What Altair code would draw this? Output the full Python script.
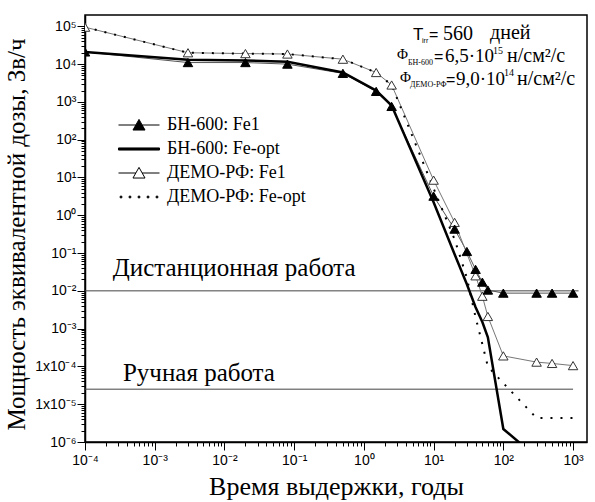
import json
import altair as alt
import pandas as pd

# ---------------- data ----------------
years = [1e-4, 3e-3, 0.02, 0.08, 0.5, 1.5, 2.5, 10, 20, 30, 40, 50, 60, 100, 300, 500, 1000]

bn600_fe1 = [2.1e4, 1.1e4, 1.1e4, 1.0e4, 5.7e3, 1.9e3, 7.6e2, 3.2, 0.43, 0.11, 0.037,
             0.017, 0.0105, 8.7e-3, 8.7e-3, 8.7e-3, 8.7e-3]
bn600_feopt = [2.1e4, 1.3e4, 1.25e4, 1.15e4, 6.0e3, 2.0e3, 8.0e2, 2.2, 0.093, 0.015, 3.7e-3,
               1.5e-3, 5.9e-4, 2.2e-6, 4e-7, None, None]
demo_fe1 = [9.5e4, 2.0e4, 1.9e4, 1.85e4, 1.35e4, 6.0e3, 2.8e3, 8.5, 0.65, None, 0.025,
            7.2e-3, 2.1e-3, 1.9e-4, 1.3e-4, 1.2e-4, 1.05e-4]
demo_feopt = [9.5e4, 2.0e4, 1.9e4, 1.85e4, 1.35e4, 6.0e3, 2.8e3, 5.1, 0.23, 0.022, 2.0e-3,
              3.9e-4, 1.0e-4, 3.6e-5, 4.3e-6, 4.3e-6, 4.3e-6]

series_names = ["БН-600: Fe1", "БН-600: Fe-opt", "ДЕМО-РФ: Fe1", "ДЕМО-РФ: Fe-opt"]

limit_values = [1e-2, 2.5e-5]
limit_x_start = [1e-4, 1e-4]
limit_x_end = [1200, 1000]
limit_labels = ["Дистанционная работа", "Ручная работа"]
limit_label_x = [2.5e-4, 3.5e-4]
limit_label_y = [2.45e-2, 4.1e-5]

x_tick_labels = ["10⁻⁴", "10⁻³", "10⁻²", "10⁻¹", "10⁰", "10¹", "10²", "10³"]
y_tick_labels = ["10⁻⁶", "1x10⁻⁵", "1x10⁻⁴", "10⁻³", "10⁻²", "10⁻¹", "10⁰",
                 "10¹", "10²", "10³", "10⁴", "10⁵"]

# ---------------- tables ----------------
rows = []
for name, vals in zip(series_names, [bn600_fe1, bn600_feopt, demo_fe1, demo_feopt]):
    for xv, yv in zip(years, vals):
        if yv is not None:
            rows.append({"series": name, "x": xv, "y": yv})
df = pd.DataFrame(rows)

df_lim = pd.DataFrame({"x0": limit_x_start, "x1": limit_x_end, "y": limit_values})
df_lab = pd.DataFrame({"lx": limit_label_x, "ly": limit_label_y, "label": limit_labels})
df_leg = pd.DataFrame({"series": series_names})

x_ticks = [m * 10.0 ** e for e in range(-4, 3) for m in range(1, 10)] + [1000.0]
y_ticks = [m * 10.0 ** e for e in range(-6, 5) for m in range(1, 10)] + [1e5]

DEC = "abs(log(datum.value)/LN10 - round(log(datum.value)/LN10)) < 0.000001"
x_label_expr = (f"{DEC} ? {json.dumps(x_tick_labels, ensure_ascii=False)}"
                f"[round(log(datum.value)/LN10) + 4] : ''")
y_label_expr = (f"{DEC} ? {json.dumps(y_tick_labels, ensure_ascii=False)}"
                f"[round(log(datum.value)/LN10) + 6] : ''")

SERIF = "Liberation Serif, Times New Roman, serif"
SANS = "Liberation Sans, Arial, sans-serif"

xs = alt.Scale(type="log", domain=[1e-4, 10 ** 3.2], nice=False)
ys = alt.Scale(type="log", domain=[1e-6, 10 ** 5.3], nice=False)

common_axis = dict(
    grid=False, labelOverlap=False, labelFlush=False,
    tickSize={"condition": {"test": DEC, "value": 8}, "value": 4},
    tickColor="black", tickWidth=1, domainColor="black", domainWidth=1.5,
    labelFont=SANS, labelFontSize=14, labelColor="black",
    titleFont=SERIF, titleFontWeight="normal", titleColor="black",
)
x_axis = alt.Axis(values=x_ticks, labelExpr=x_label_expr, labelPadding=3,
                  title="Время выдержки, годы", titleFontSize=26, titlePadding=6,
                  **common_axis)
y_axis = alt.Axis(values=y_ticks, labelExpr=y_label_expr, labelPadding=1,
                  title="Мощность эквивалентной дозы, Зв/ч", titleFontSize=25,
                  titleX=-56, titleY=219, **common_axis)


def X(field):
    return alt.X(f"{field}:Q", scale=xs, axis=x_axis)


def Y(field):
    return alt.Y(f"{field}:Q", scale=ys, axis=y_axis)


# reference lines
rules = alt.Chart(df_lim).mark_rule(color="#444", strokeWidth=1).encode(
    x=X("x0"), x2="x1", y=Y("y"))
rule_text = alt.Chart(df_lab).mark_text(
    align="left", baseline="alphabetic", font=SERIF, fontSize=25, color="black"
).encode(x=X("lx"), y=Y("ly"), text="label:N")


def series_line(name, **style):
    return alt.Chart(df).transform_filter(alt.datum.series == name).mark_line(
        clip=True, **style).encode(x=X("x"), y=Y("y"))


def series_points(name, **style):
    return alt.Chart(df).transform_filter(alt.datum.series == name).mark_point(
        shape="triangle-up", clip=True, opacity=1, **style).encode(x=X("x"), y=Y("y"))


l_bn_fe1 = series_line(series_names[0], color="#555", strokeWidth=1)
l_bn_opt = series_line(series_names[1], color="black", strokeWidth=2.5)
l_demo_fe1 = series_line(series_names[2], color="#777", strokeWidth=1)
l_demo_opt = series_line(series_names[3], color="black", strokeWidth=2,
                         strokeDash=[2, 8], strokeCap="butt")
p_bn_fe1 = series_points(series_names[0], filled=True, fill="black", stroke="black",
                         strokeWidth=1, size=90)
p_demo_fe1 = series_points(series_names[2], filled=True, fill="white", stroke="#333",
                           strokeWidth=1, size=90)

# legend (custom symbols: line + triangle, thick line, dots); unit = 7 px
tri_line = "M-2.93,0H-0.45M-0.86,0.72L0,-0.8L0.86,0.72ZM0.45,0H2.93"
thick = "M-2.93,-0.15H2.93V0.15H-2.93Z"
dots = "".join(f"M{c - 0.12:.2f},-0.12h0.24v0.24h-0.24Z"
               for c in [-2.57, -1.29, 0, 1.29, 2.57])
legend_paths = [tri_line, thick, tri_line, dots]
legend_fill = ["black", "black", "white", "black"]
legend_stroke = ["black", "black", "black", "black"]

leg = alt.Legend(orient="none", legendX=45, legendY=101, title=None,
                 labelFont=SERIF, labelFontSize=18, labelColor="black",
                 symbolSize=196, symbolStrokeWidth=1, symbolOpacity=1,
                 labelOffset=19, rowPadding=6, padding=0)
legend_layer = alt.Chart(df_leg).mark_point(filled=True, opacity=0, strokeWidth=1).encode(
    shape=alt.Shape("series:N", scale=alt.Scale(domain=series_names, range=legend_paths),
                    legend=leg),
    fill=alt.Fill("series:N", scale=alt.Scale(domain=series_names, range=legend_fill),
                  legend=leg),
    stroke=alt.Stroke("series:N", scale=alt.Scale(domain=series_names, range=legend_stroke),
                      legend=leg),
)

# top-right annotation built from text pieces
PX0, PY0 = 85, 15


def note(text, px, py, size, font=SERIF, align="left"):
    return alt.Chart(alt.Data(values=[{}])).mark_text(
        text=text, align=align, baseline="alphabetic", font=font, fontSize=size,
        color="black").encode(x=alt.value(px - PX0), y=alt.value(py - PY0))


notes = [
    note("T", 413, 40, 17, SANS),
    note("irr", 422, 43, 7, SANS),
    note("=", 429, 40, 16, SANS),
    note("560", 443, 40, 20),
    note("дней", 490, 39, 20),
    note("Φ", 397, 59, 15),
    note("БН-600", 408, 65, 8),
    note("=", 434, 62, 16, SANS),
    note("6,5·10", 445, 62, 19),
    note("15", 493, 54, 10),
    note("н/см²/с", 507, 62, 20),
    note("Φ", 400, 82, 15),
    note("ДЕМО-РФ", 410, 87, 8),
    note("=", 446, 85, 16, SANS),
    note("9,0·10", 456, 85, 19),
    note("14", 504, 76, 10),
    note("н/см²/с", 517, 85, 20),
]

chart = alt.layer(
    rules, rule_text, l_bn_fe1, l_demo_fe1, l_demo_opt, l_bn_opt, p_demo_fe1, p_bn_fe1,
    legend_layer, *notes
).properties(
    width=502, height=427,
    autosize=alt.AutoSizeParams(type="none"),
    padding={"left": 85, "top": 15, "right": 8, "bottom": 60},
    background="white",
).configure_view(stroke="black", strokeWidth=1.5).configure_legend(
    labelFont=SERIF, labelFontSize=18, labelColor="black")

chart.save("out.html", embed_options={"renderer": "svg", "actions": False})
